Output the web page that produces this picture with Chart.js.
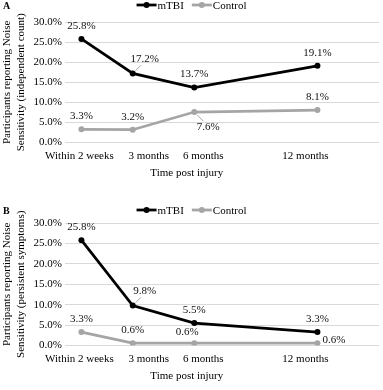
<!DOCTYPE html>
<html>
<head>
<meta charset="utf-8">
<script src="https://cdn.jsdelivr.net/npm/chart.js@4.4.1/dist/chart.umd.min.js"></script>
<style>
  html, body { margin: 0; padding: 0; background: #fff; width: 383px; height: 390px; overflow: hidden; }
  .panel { position: absolute; left: 0; width: 383px; }
  #panelA { top: 0; height: 191px; }
  #panelB { top: 190px; height: 204px; }
</style>
</head>
<body>
<div class="panel" id="panelA"><canvas id="chartA"></canvas></div>
<div class="panel" id="panelB"><canvas id="chartB"></canvas></div>
<script>
/*
-------------------------------------
/// data
-------------------------------------
*/
const timepointMonths = [0.5, 3, 6, 12];
const timeLabels = ['Within 2 weeks', '3 months', '6 months', '12 months'];
const yTicks = [0, 5, 10, 15, 20, 25, 30];

const mtbiIndependent = [25.8, 17.2, 13.7, 19.1];
const controlIndependent = [3.3, 3.2, 7.6, 8.1];
const mtbiPersistent = [25.8, 9.8, 5.5, 3.3];
const controlPersistent = [3.3, 0.6, 0.6, 0.6];

const seriesNames = ['mTBI', 'Control'];

/*
-------------------------------------
/// styles
-------------------------------------
*/
const serif = '"Liberation Serif", "Times New Roman", serif';
const black = '#000000';
const grey = '#a5a5a5';

// the category labels sit a little off their points, as in the source figure
const tickNudge = [-2, 16, 9, -12];

const labelNudge = {
  above:      { dx: 0,  dy: -13, align: 'center' },
  aboveRight: { dx: 12, dy: -14, align: 'center', leader: [3, -3, 8, -8] },
  belowRight: { dx: 14, dy: 15,  align: 'center', leader: [3, 3, 9, 9] },
  aboveLeft:  { dx: -7, dy: -11, align: 'center' },
  right:      { dx: 5,  dy: -3,  align: 'left' }
};

function toPoints(values) {
  return values.map((v, i) => ({ x: timepointMonths[i], y: v }));
}

// value labels, legend, x labels and panel letter
const decorPlugin = {
  id: 'decor',
  afterDatasetsDraw(chart, args, opts) {
    const ctx = chart.ctx;
    ctx.save();
    ctx.font = '11px ' + serif;
    ctx.textBaseline = 'middle';
    chart.data.datasets.forEach((ds, i) => {
      const meta = chart.getDatasetMeta(i);
      meta.data.forEach((pt, j) => {
        const spot = labelNudge[ds.labelSpots[j]];
        if (spot.leader) {
          const l = spot.leader;
          ctx.strokeStyle = '#8c8c8c';
          ctx.lineWidth = 0.8;
          ctx.beginPath();
          ctx.moveTo(pt.x + l[0], pt.y + l[1]);
          ctx.lineTo(pt.x + l[2], pt.y + l[3]);
          ctx.stroke();
        }
        ctx.fillStyle = '#111';
        ctx.textAlign = spot.align;
        ctx.fillText(ds.data[j].y.toFixed(1) + '%', pt.x + spot.dx, pt.y + spot.dy);
      });
    });
    ctx.restore();
  },
  afterDraw(chart, args, opts) {
    const ctx = chart.ctx;
    ctx.save();
    // panel letter
    ctx.font = 'bold 10px ' + serif;
    ctx.fillStyle = black;
    ctx.textAlign = 'left';
    ctx.textBaseline = 'middle';
    ctx.fillText(opts.letter, 3, opts.legendY + 1);

    // legend, centred on the canvas
    ctx.font = '11px ' + serif;
    const sample = 20, gap = 1, between = 8;
    const items = chart.data.datasets.map(ds => ({
      ds, w: sample + gap + ctx.measureText(ds.label).width
    }));
    const total = items.reduce((s, it) => s + it.w, 0) + between * (items.length - 1);
    let x = chart.width / 2 - total / 2;
    const y = opts.legendY;
    items.forEach(it => {
      ctx.strokeStyle = it.ds.borderColor;
      ctx.lineWidth = it.ds.borderWidth;
      ctx.beginPath();
      ctx.moveTo(x, y);
      ctx.lineTo(x + sample, y);
      ctx.stroke();
      ctx.fillStyle = it.ds.borderColor;
      ctx.beginPath();
      ctx.arc(x + sample / 2, y, 3, 0, Math.PI * 2);
      ctx.fill();
      ctx.fillStyle = black;
      ctx.fillText(it.ds.label, x + sample + gap, y + 1);
      x += it.w + between;
    });

    // category labels under the points
    const xs = chart.scales.x;
    const labelY = chart.chartArea.bottom + 14;
    ctx.textAlign = 'center';
    let first = 0, last = 0;
    timeLabels.forEach((lab, i) => {
      const cx = xs.getPixelForValue(timepointMonths[i]) + tickNudge[i];
      ctx.fillText(lab, cx, labelY);
      const half = ctx.measureText(lab).width / 2;
      if (i === 0) first = cx - half;
      if (i === timeLabels.length - 1) last = cx + half;
    });

    // x title, centred under the span of the labels
    ctx.fillText('Time post injury', (first + last) / 2, chart.chartArea.bottom + 31);
    ctx.restore();
  }
};

function makeChart(canvasId, mtbi, control, spotsM, spotsC, yTitle, letter, legendY, topPad) {
  const ctx = document.getElementById(canvasId).getContext('2d');
  return new Chart(ctx, {
    type: 'line',
    data: {
      datasets: [{
        label: seriesNames[0],
        data: toPoints(mtbi),
        borderColor: black,
        backgroundColor: black,
        borderWidth: 2.75,
        pointRadius: 3,
        pointBackgroundColor: black,
        pointBorderWidth: 0,
        tension: 0,
        labelSpots: spotsM
      }, {
        label: seriesNames[1],
        data: toPoints(control),
        borderColor: grey,
        backgroundColor: grey,
        borderWidth: 2.75,
        pointRadius: 3,
        pointBackgroundColor: grey,
        pointBorderWidth: 0,
        tension: 0,
        labelSpots: spotsC
      }]
    },
    options: {
      responsive: true,
      maintainAspectRatio: false,
      devicePixelRatio: 1,
      animation: false,
      events: [],
      layout: { padding: { top: topPad, right: 1, bottom: 0, left: 0 } },
      plugins: {
        legend: { display: false },
        tooltip: { enabled: false },
        decor: { letter: letter, legendY: legendY }
      },
      scales: {
        x: {
          type: 'linear',
          min: -0.3,
          max: 15,
          afterBuildTicks: scale => {
            scale.ticks = timepointMonths.map(v => ({ value: v }));
          },
          ticks: {
            autoSkip: false,
            maxRotation: 0,
            padding: 7,
            color: 'rgba(0,0,0,0)',
            font: { family: serif, size: 11 },
            callback: v => timeLabels[timepointMonths.indexOf(v)]
          },
          grid: { display: false, drawTicks: false },
          border: { display: false },
          title: {
            display: true,
            text: ' ',
            padding: { top: 4, bottom: 4 },
            font: { family: serif, size: 11 }
          }
        },
        y: {
          min: yTicks[0],
          max: yTicks[yTicks.length - 1],
          afterBuildTicks: scale => {
            scale.ticks = yTicks.map(v => ({ value: v }));
          },
          afterFit: scale => { scale.width = 65; },
          ticks: {
            padding: 3,
            color: black,
            font: { family: serif, size: 11 },
            callback: v => v.toFixed(1) + '%'
          },
          grid: { color: '#d9d9d9', lineWidth: 1, drawTicks: false },
          border: { display: false },
          title: {
            display: true,
            text: yTitle,
            color: black,
            padding: { top: 0, bottom: 0 },
            font: { family: serif, size: 11, lineHeight: 1.3 }
          }
        }
      }
    },
    plugins: [decorPlugin]
  });
}

/*
-------------------------------------
/// charts
-------------------------------------
*/
makeChart('chartA', mtbiIndependent, controlIndependent,
  ['above', 'aboveRight', 'above', 'above'],
  ['above', 'above', 'belowRight', 'above'],
  ['Participants reporting Noise', 'Sensitivity (independent count)'],
  'A', 5, 22);

makeChart('chartB', mtbiPersistent, controlPersistent,
  ['above', 'aboveRight', 'above', 'above'],
  ['above', 'above', 'aboveLeft', 'right'],
  ['Participants reporting Noise', 'Sensitivity (persistent symptoms)'],
  'B', 20, 33);
</script>
</body>
</html>
